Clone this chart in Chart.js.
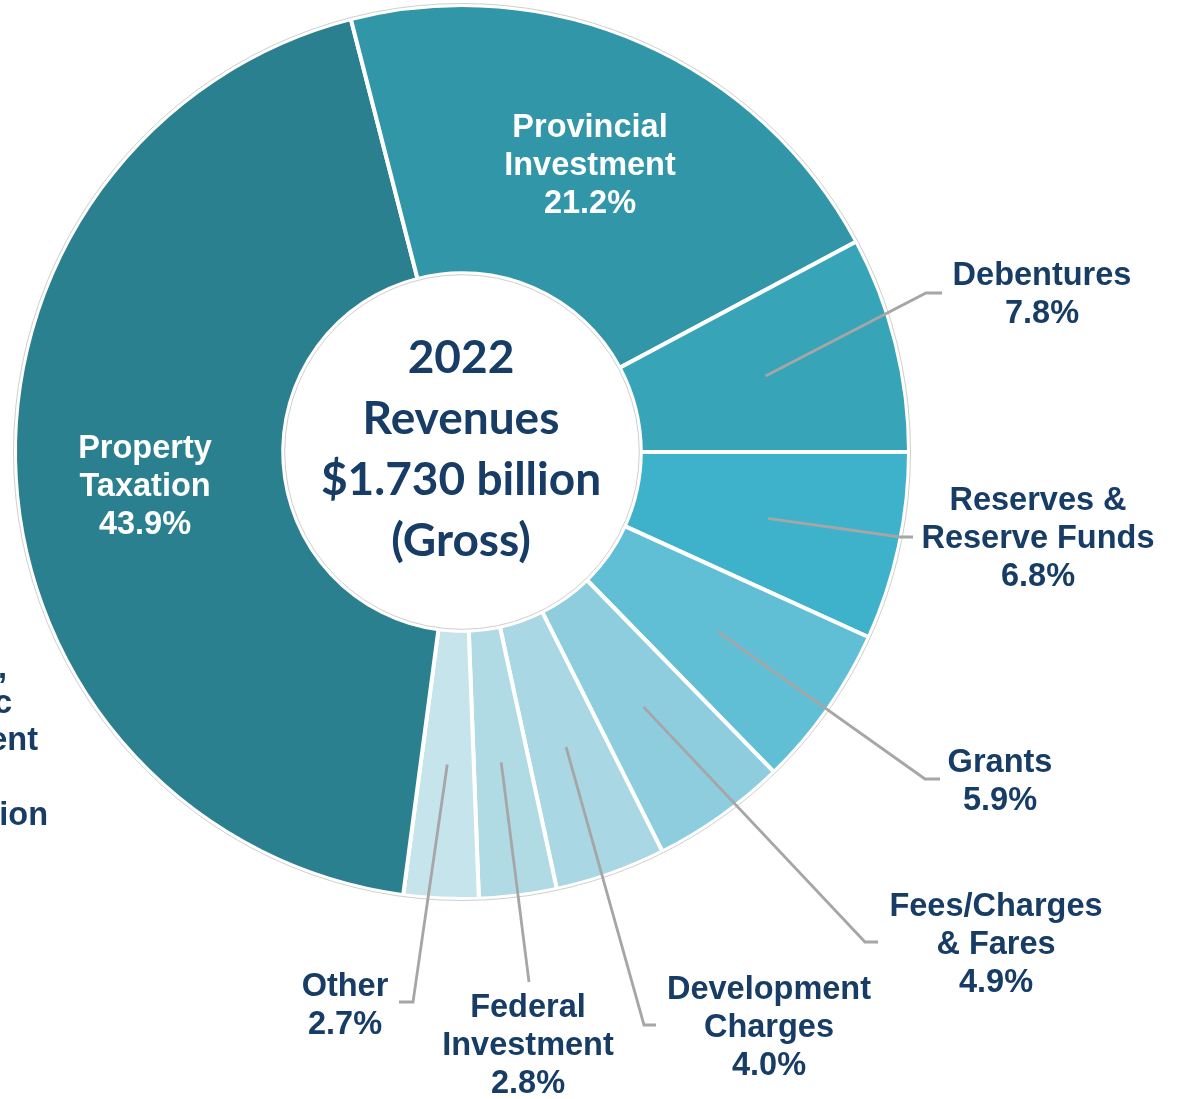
<!DOCTYPE html>
<html>
<head>
<meta charset="utf-8">
<script src="https://cdn.jsdelivr.net/npm/chart.js@4/dist/chart.umd.min.js"></script>
<style>
  html, body { margin: 0; padding: 0; background: #fff; }
  canvas { display: block; }
</style>
</head>
<body>
<canvas id="revenue-chart" width="1178" height="1099"></canvas>
<script>
// clockwise from 3 o'clock
const categories = ['Reserves & Reserve Funds', 'Grants', 'Fees/Charges & Fares', 'Development Charges',
  'Federal Investment', 'Other', 'Property Taxation', 'Provincial Investment', 'Debentures'];
const shares = [6.8, 5.9, 4.9, 4.0, 2.8, 2.7, 43.9, 21.2, 7.8];
const sliceColors = ['#3db2ca', '#61bfd5', '#8ecddd', '#a9d7e3', '#b0dae4', '#c6e4ec', '#2b8090', '#3196a8', '#37a4b8'];
const centerLines = ['2022', 'Revenues', '$1.730 billion', '(Gross)'];

// label placement (text lines, first line centre, leader elbow / end)
const labelLayout = [
  { lines: ['Reserves &', 'Reserve Funds'], x: 1038, y: 501, elbow: [900, 537], end: [913, 537] },
  { lines: ['Grants'], x: 1000, y: 763, elbow: [925, 779], end: [940, 779] },
  { lines: ['Fees/Charges', '& Fares'], x: 996, y: 907, elbow: [865, 942], end: [878, 942] },
  { lines: ['Development', 'Charges'], x: 769, y: 990, elbow: [644, 1025], end: [656, 1025] },
  { lines: ['Federal', 'Investment'], x: 528, y: 1008, elbow: [529, 982] },
  { lines: ['Other'], x: 345, y: 987, elbow: [413, 1002], end: [399, 1002] },
  { lines: ['Property', 'Taxation'], x: 145, y: 449, inside: true },
  { lines: ['Provincial', 'Investment'], x: 590, y: 128, inside: true },
  { lines: ['Debentures'], x: 1042, y: 276, elbow: [926, 293], end: [942, 293] }
];

const navy = '#173d66';
const labelFont = 'bold 32.5px "Liberation Sans", Arial, sans-serif';

const labelPlugin = {
  id: 'labels',
  afterDatasetsDraw(chart) {
    const ctx = chart.ctx;
    const arcs = chart.getDatasetMeta(0).data;
    const cx = arcs[0].x, cy = arcs[0].y;
    const outer = arcs[0].outerRadius, inner = arcs[0].innerRadius;

    ctx.save();
    // faint outline round the ring
    ctx.strokeStyle = '#cfcfcf';
    ctx.lineWidth = 1;
    ctx.beginPath(); ctx.arc(cx, cy, outer + 1.5, 0, Math.PI * 2); ctx.stroke();
    ctx.beginPath(); ctx.arc(cx, cy, inner - 1.5, 0, Math.PI * 2); ctx.stroke();

    // leader lines
    ctx.strokeStyle = '#a6a6a6';
    ctx.lineWidth = 2.8;
    labelLayout.forEach((lay, i) => {
      if (lay.inside) return;
      const p = arcs[i].tooltipPosition();
      ctx.beginPath();
      ctx.moveTo(p.x, p.y);
      ctx.lineTo(lay.elbow[0], lay.elbow[1]);
      if (lay.end) ctx.lineTo(lay.end[0], lay.end[1]);
      ctx.stroke();
    });

    // category labels
    ctx.font = labelFont;
    ctx.textAlign = 'center';
    ctx.textBaseline = 'middle';
    labelLayout.forEach((lay, i) => {
      const text = lay.lines.concat(shares[i].toFixed(1) + '%');
      ctx.fillStyle = lay.inside ? '#ffffff' : navy;
      text.forEach((t, k) => ctx.fillText(t, lay.x, lay.y + k * 38));
    });

    // cut-off text at the left edge
    ctx.fillStyle = navy;
    ctx.textAlign = 'right';
    [[',', 7, 669], ['c', 12, 704], ['ent', 38, 741], ['ion', 48, 816]].forEach(f => ctx.fillText(f[0], f[1], f[2]));

    // centre text
    ctx.font = 'bold 46px Lato, "Open Sans", sans-serif';
    ctx.textAlign = 'center';
    centerLines.forEach((t, k) => ctx.fillText(t, cx - 1, 358 + k * 61));
    ctx.restore();
  }
};

new Chart(document.getElementById('revenue-chart'), {
  type: 'doughnut',
  data: {
    labels: categories,
    datasets: [{
      data: shares,
      backgroundColor: sliceColors,
      borderColor: '#ffffff',
      borderWidth: 4
    }]
  },
  options: {
    responsive: false,
    animation: false,
    rotation: 90,
    radius: 447,
    cutout: '40%',
    layout: { padding: { left: 0, top: 0, right: 254, bottom: 195 } },
    plugins: {
      legend: { display: false },
      tooltip: { enabled: false }
    }
  },
  plugins: [labelPlugin]
});
</script>
</body>
</html>
